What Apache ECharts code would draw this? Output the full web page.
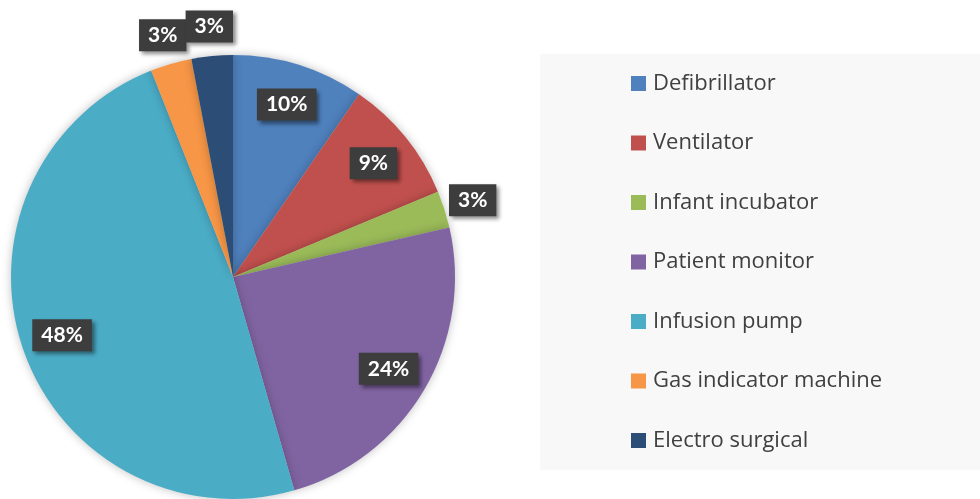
<!DOCTYPE html>
<html>
<head>
<meta charset="utf-8">
<script src="https://cdn.jsdelivr.net/npm/echarts@6/dist/echarts.min.js"></script>
<style>
  html, body { margin: 0; padding: 0; background: #fff; }
  #main { width: 980px; height: 499px; }
</style>
</head>
<body>
<div id="main"></div>
<script>
var categories = ['Defibrillator', 'Ventilator', 'Infant incubator', 'Patient monitor', 'Infusion pump', 'Gas indicator machine', 'Electro surgical'];
var shares = [9.6, 9.1, 2.7, 24.1, 48.4, 3.0, 3.0];
var colors = ['#4f81bd', '#c0504d', '#9bbb59', '#8064a2', '#4bacc6', '#f79646', '#2c4d75'];

var myChart = echarts.init(document.getElementById('main'));

var R = 222;
var center = [233, 277];

// dark label box like excel data labels
var labelBox = {
    color: '#fff',
    fontFamily: 'Lato',
    fontWeight: 'bold',
    fontSize: 21,
    backgroundColor: '#3d3d3d',
    padding: [6, 9, 5, 9],
    shadowColor: 'rgba(0,0,0,0.45)',
    shadowBlur: 4,
    shadowOffsetX: 3,
    shadowOffsetY: 3,
    formatter: function (p) { return Math.round(p.percent) + '%'; }
};

function labelData(big) {
    return shares.map(function (v, i) {
        return {
            value: v,
            name: categories[i],
            itemStyle: { color: 'rgba(0,0,0,0)' },
            label: { show: big ? v >= 5 : v < 5 }
        };
    });
}

myChart.setOption({
    color: colors,
    animation: false,
    graphic: [{
        type: 'rect',
        z: -1,
        shape: { x: 540, y: 54, width: 440, height: 416 },
        style: { fill: '#f8f8f8' }
    }],
    legend: {
        orient: 'vertical',
        left: 631,
        top: 72.5,
        padding: 0,
        itemWidth: 15,
        itemHeight: 15,
        itemGap: 37.5,
        icon: 'rect',
        data: categories,
        textStyle: {
            fontFamily: 'Open Sans',
            fontSize: 22,
            lineHeight: 22,
            color: '#404040',
            padding: [0, 0, 0, 2]
        }
    },
    series: [{
        name: 'main',
        type: 'pie',
        center: center,
        radius: [0, R],
        startAngle: 90,
        clockwise: true,
        avoidLabelOverlap: false,
        label: { show: false },
        labelLine: { show: false },
        itemStyle: {
            shadowBlur: 10,
            shadowColor: 'rgba(0,0,0,0.25)'
        },
        data: shares.map(function (v, i) { return { value: v, name: categories[i] }; })
    }, {
        // labels inside slices, around 0.8 of radius
        name: 'inner labels',
        type: 'pie',
        silent: true,
        center: center,
        radius: [R * 0.6, R],
        startAngle: 90,
        avoidLabelOverlap: false,
        label: Object.assign({ position: 'inside' }, labelBox),
        labelLine: { show: false },
        emphasis: { disabled: true },
        data: labelData(true)
    }, {
        // labels for small slices just outside the pie
        name: 'outer labels',
        type: 'pie',
        silent: true,
        center: center,
        radius: [R, R * 1.24],
        startAngle: 90,
        avoidLabelOverlap: false,
        label: Object.assign({ position: 'inside' }, labelBox),
        labelLine: { show: false },
        emphasis: { disabled: true },
        labelLayout: { hideOverlap: false },
        data: labelData(false)
    }]
});
</script>
</body>
</html>
